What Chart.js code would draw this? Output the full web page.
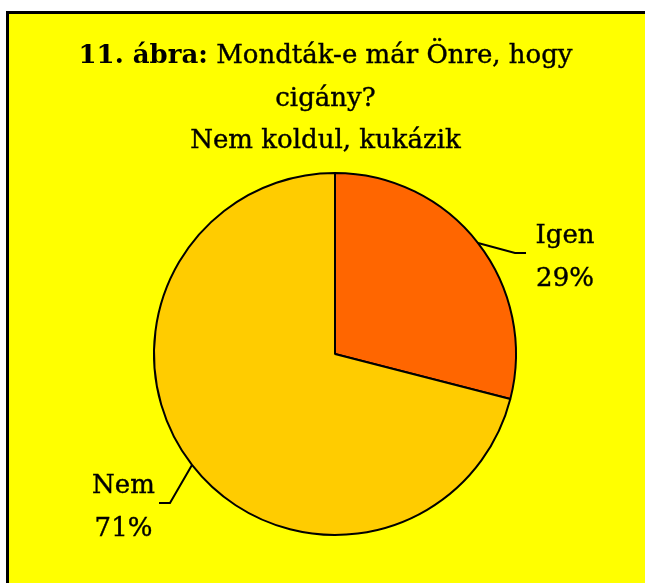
<!doctype html>
<html lang="hu">
  <head>
    <meta charset="utf-8">
    <title>11. ábra</title>
    <style>
      * { margin: 0; padding: 0; }
      body { background: #fff; width: 645px; height: 583px; overflow: hidden; position: relative; }
      .frame {
        position: absolute; left: 6px; top: 11px;
        width: 700px; height: 700px;
        background: #FFFF00;
        border-left: 3px solid #000; border-top: 3px solid #000;
      }
      .chartBox { position: absolute; left: 0; top: 0; width: 645px; height: 583px; }
    </style>
  </head>
  <body>
    <div class="frame"></div>
    <div class="chartBox"><canvas id="myChart" width="645" height="583"></canvas></div>
    <script src="https://cdn.jsdelivr.net/npm/chart.js"></script>
    <script>
    // data
    const categories = ['Igen', 'Nem'];
    const values = [29, 71];
    const percentLabels = ['29%', '71%'];
    const sliceColors = ['#FF6600', '#FFCC00'];
    const titleBold = '11. ábra:';
    const titleLines = [' Mondták-e már Önre, hogy', 'cigány?', 'Nem koldul, kukázik'];

    const FONT = '"DejaVu Serif", serif';

    // slightly heavier text, the original face is a chunky serif
    function heavyText(c, s, x, y) {
      c.fillText(s, x, y);
      c.strokeText(s, x, y);
    }

    // title with a bold lead-in, drawn centred
    const titlePlugin = {
      id: 'mixedTitle',
      afterDraw(chart) {
        const c = chart.ctx;
        const cx = 325.5;
        c.save();
        c.fillStyle = '#000';
        c.strokeStyle = '#000';
        c.lineWidth = 0.4;
        c.textBaseline = 'alphabetic';
        c.font = 'bold 26px ' + FONT;
        const wb = c.measureText(titleBold).width;
        c.font = '26px ' + FONT;
        const wr = c.measureText(titleLines[0]).width;
        let x = cx - (wb + wr) / 2;
        c.textAlign = 'left';
        c.font = 'bold 26px ' + FONT;
        c.fillText(titleBold, x, 63);
        c.font = '26px ' + FONT;
        heavyText(c, titleLines[0], x + wb, 63);
        c.textAlign = 'center';
        heavyText(c, titleLines[1], cx, 105.5);
        heavyText(c, titleLines[2], cx, 148);
        c.restore();
      }
    };

    // outside labels with leader lines, anchored on each arc's mid point
    const labelPlugin = {
      id: 'outLabels',
      afterDatasetsDraw(chart) {
        const c = chart.ctx;
        const meta = chart.getDatasetMeta(0);
        c.save();
        c.strokeStyle = '#000';
        c.fillStyle = '#000';
        c.font = '26px ' + FONT;
        c.textAlign = 'center';
        meta.data.forEach((arc, i) => {
          const p = arc.getProps(['x', 'y', 'startAngle', 'endAngle', 'outerRadius'], true);
          const mid = (p.startAngle + p.endAngle) / 2;
          const ax = p.x + Math.cos(mid) * p.outerRadius;
          const ay = p.y + Math.sin(mid) * p.outerRadius;
          const right = Math.cos(mid) >= 0;
          const bx = right ? ax + 37 : ax - 22;
          const by = right ? ay + 10 : ay + 38;
          const ex = right ? bx + 11 : bx - 11;
          c.lineWidth = 2;
          c.beginPath();
          c.moveTo(ax, ay);
          c.lineTo(bx, by);
          c.lineTo(ex, by);
          c.stroke();
          const tx = right ? ex + 39 : ex - 35.5;
          c.lineWidth = 0.4;
          heavyText(c, categories[i], tx, by - 10);
          heavyText(c, percentLabels[i], tx, by + 33);
        });
        c.restore();
      }
    };

    const data = {
      labels: categories,
      datasets: [{
        data: values,
        backgroundColor: sliceColors,
        borderColor: '#000',
        borderWidth: 2,
        radius: 181
      }]
    };

    const config = {
      type: 'pie',
      data,
      options: {
        responsive: false,
        animation: false,
        layout: { padding: { left: 154, right: 129, top: 173, bottom: 48 } },
        plugins: {
          legend: { display: false },
          title: { display: false },
          tooltip: { enabled: false }
        }
      },
      plugins: [titlePlugin, labelPlugin]
    };

    const ctx = document.getElementById('myChart');
    const myChart = new Chart(ctx, config);
    </script>
  </body>
</html>
